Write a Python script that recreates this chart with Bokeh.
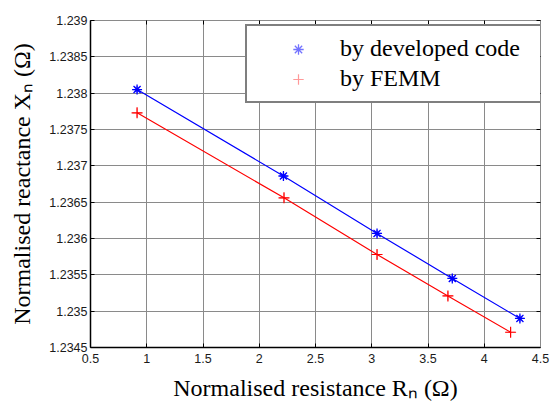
from bokeh.plotting import figure
from bokeh.models import (ColumnDataSource, LinearAxis, FixedTicker, Legend,
                          LegendItem, Range1d)
from bokeh.embed import file_html
from bokeh.resources import INLINE

# ---- data ----
x_dev = [0.914, 2.215, 3.047, 3.716, 4.317]
y_dev = [1.23805, 1.23686, 1.23607, 1.23545, 1.23490]
x_femm = [0.914, 2.220, 3.047, 3.677, 4.234]
y_femm = [1.23773, 1.23656, 1.23578, 1.23521, 1.23471]

x_ticks = [0.5, 1, 1.5, 2, 2.5, 3, 3.5, 4, 4.5]
x_tick_labels = ["0.5", "1", "1.5", "2", "2.5", "3", "3.5", "4", "4.5"]
y_ticks = [1.2345, 1.235, 1.2355, 1.236, 1.2365, 1.237, 1.2375, 1.238, 1.2385, 1.239]
y_tick_labels = ["1.2345", "1.235", "1.2355", "1.236", "1.2365", "1.237",
                 "1.2375", "1.238", "1.2385", "1.239"]

legend_labels = ["by developed code", "by FEMM"]
x_title = "Normalised resistance Rₙ (Ω)"
y_title = "Normalised reactance Xₙ (Ω)"

TICK_FONT = "'Liberation Sans', Arial, sans-serif"
SERIF = "'Liberation Serif', 'Times New Roman', serif"
GRID = "#8a8a8a"

p = figure(frame_width=450, frame_height=327, output_backend="svg",
           toolbar_location=None,
           x_range=Range1d(0.5, 4.5), y_range=Range1d(1.2345, 1.239),
           min_border_left=90, min_border_right=14, min_border_top=20,
           min_border_bottom=56, x_axis_location=None, y_axis_location=None)
p.outline_line_color = None
p.background_fill_color = "white"
p.border_fill_color = "white"

def style_axis(ax, ticks, labels, line_color):
    ax.ticker = FixedTicker(ticks=ticks)
    ax.major_label_overrides = {t: l for t, l in zip(ticks, labels)}
    ax.minor_tick_line_color = None
    ax.major_tick_in = 4
    ax.major_tick_out = 0
    ax.major_tick_line_color = "black"
    ax.major_tick_line_width = 1
    ax.axis_line_color = line_color
    ax.axis_line_width = 1.5 if line_color == "black" else 1
    ax.major_label_text_font = TICK_FONT
    ax.major_label_text_color = "#1a1a1a"
    ax.major_label_text_font_size = "12.5px"

bottom = LinearAxis()
style_axis(bottom, x_ticks, x_tick_labels, "black")
bottom.major_label_standoff = 6
bottom.axis_label = x_title
bottom.axis_label_text_font = SERIF
bottom.axis_label_text_font_size = "24px"
bottom.axis_label_text_font_style = "normal"
bottom.axis_label_text_color = "black"
bottom.axis_label_standoff = 9
p.add_layout(bottom, "below")

left = LinearAxis()
style_axis(left, y_ticks, y_tick_labels, "black")
left.major_label_standoff = 3
left.axis_label = y_title
left.axis_label_text_font = SERIF
left.axis_label_text_font_size = "24px"
left.axis_label_text_font_style = "normal"
left.axis_label_text_color = "black"
left.axis_label_standoff = 11
p.add_layout(left, "left")

# top / right axes: ticks only (blank labels)
top = LinearAxis()
style_axis(top, x_ticks, [""] * len(x_ticks), GRID)
top.major_label_text_font_size = "1px"
top.major_label_standoff = 0
p.add_layout(top, "above")

right = LinearAxis()
style_axis(right, y_ticks, [""] * len(y_ticks), GRID)
right.major_label_standoff = 0
p.add_layout(right, "right")

p.xgrid.ticker = FixedTicker(ticks=x_ticks)
p.ygrid.ticker = FixedTicker(ticks=y_ticks)
for g in (p.xgrid, p.ygrid):
    g.grid_line_color = GRID
    g.grid_line_width = 1
    g.grid_line_alpha = 1

src_dev = ColumnDataSource(dict(x=x_dev, y=y_dev))
src_femm = ColumnDataSource(dict(x=x_femm, y=y_femm))

p.line("x", "y", source=src_dev, line_color="#0000ff", line_width=1.2)
p.line("x", "y", source=src_femm, line_color="#ff0000", line_width=1.2)

# legend glyphs (pale, drawn underneath the plot markers so hidden in the plot)
leg_dev = p.scatter("x", "y", source=src_dev, marker="asterisk", size=7,
                    line_color="#0000ff", line_alpha=0.55, line_width=1.3)
leg_femm = p.scatter("x", "y", source=src_femm, marker="cross", size=9,
                     line_color="#ff0000", line_alpha=0.4, line_width=1.2)

p.scatter("x", "y", source=src_dev, marker="asterisk", size=10,
          line_color="#0000ff", line_width=1.3)
p.scatter("x", "y", source=src_femm, marker="cross", size=11,
          line_color="#ff0000", line_width=1.2)

legend = Legend(items=[LegendItem(label=legend_labels[0], renderers=[leg_dev]),
                       LegendItem(label=legend_labels[1], renderers=[leg_femm])],
                location=(155, 244), margin=0, padding=9, spacing=3,
                glyph_width=84, glyph_height=26, label_standoff=-9,
                label_width=202, label_height=20,
                label_text_font=SERIF, label_text_font_size="24px",
                label_text_color="black",
                border_line_color="black", border_line_width=2,
                background_fill_color="white", background_fill_alpha=1)
p.add_layout(legend, "center")

open("out.html", "w").write(file_html(p, INLINE))
